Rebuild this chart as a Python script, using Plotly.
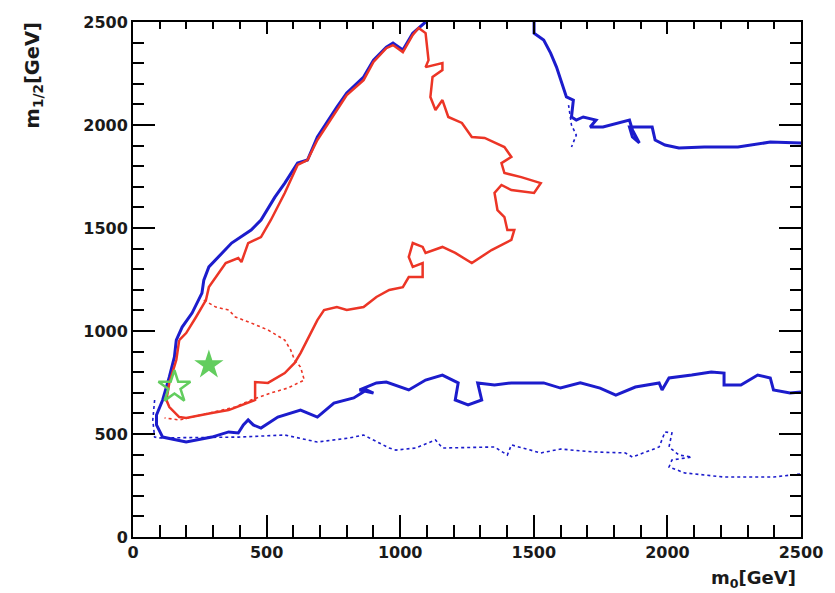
import plotly.graph_objects as go

# CMSSM (m0, m1/2) plane: likelihood contours in GeV

# blue solid contour: left edge from the top boundary down, then along the bottom to the right edge
blue_main_m0 = [1095, 1069, 1047, 1010, 973, 948, 900, 863, 800, 763, 715, 690, 653, 616, 568, 531,
                479, 442, 369, 295, 284, 265, 258, 221, 184, 162, 155, 136, 111, 88, 88, 111, 199,
                295, 358, 394, 413, 431, 450, 479, 542, 627, 690, 752, 826, 874, 900, 848, 911, 948,
                1032, 1095, 1158, 1217, 1206, 1254, 1305, 1290, 1353, 1416, 1537, 1600, 1674, 1748,
                1807, 1880, 1969, 1980, 2006, 2091, 2164, 2212, 2212, 2275, 2338, 2385, 2397, 2459, 2500]
blue_main_m12 = [2500, 2471, 2446, 2364, 2398, 2378, 2315, 2233, 2155, 2087, 1990, 1942, 1830, 1815,
                 1718, 1650, 1539, 1490, 1427, 1330, 1311, 1247, 1184, 1087, 1019, 956, 874, 777, 665,
                 592, 544, 485, 461, 485, 510, 505, 544, 568, 544, 529, 582, 616, 582, 650, 675, 714,
                 699, 714, 748, 752, 714, 762, 786, 748, 665, 641, 665, 748, 738, 748, 748, 723, 748,
                 723, 689, 728, 748, 714, 772, 786, 801, 796, 738, 738, 786, 772, 714, 699, 704]

# blue solid contour: upper-right branch
blue_top_m0 = [1501, 1501, 1537, 1563, 1585, 1600, 1622, 1648, 1641, 1659, 1685, 1733, 1711, 1759,
               1821, 1858, 1869, 1895, 1869, 1858, 1906, 1943, 1954, 1991, 2043, 2138, 2264, 2385, 2500]
blue_top_m12 = [2500, 2446, 2412, 2349, 2281, 2218, 2136, 2121, 2039, 2024, 2039, 2024, 1990, 1990,
                2010, 2024, 1976, 1913, 1942, 1990, 1990, 1990, 1927, 1903, 1888, 1893, 1893, 1917, 1913]

# blue dotted contour: small fragment in the upper-right branch
blue_frag_m0 = [1630, 1641, 1659, 1641]
blue_frag_m12 = [2097, 2000, 1951, 1893]

# blue dotted contour: lower band
blue_dot_m0 = [81, 74, 81, 100, 394, 568, 690, 811, 863, 959, 984, 1058, 1132, 1158, 1353, 1401,
               1416, 1526, 1600, 1722, 1843, 1869, 1969, 1991, 2017, 2006, 2043, 2091, 2017, 2006,
               2065, 2212, 2397, 2485, 2500]
blue_dot_m12 = [665, 568, 485, 481, 485, 495, 461, 481, 495, 432, 422, 432, 471, 432, 437, 398,
                447, 408, 427, 413, 408, 388, 437, 510, 505, 437, 398, 388, 374, 340, 311, 291,
                291, 301, 306]

# red solid contour (closed)
red_m0 = [173, 199, 236, 273, 284, 310, 347, 394, 406, 431, 479, 516, 542, 568, 616, 653, 690, 715,
          763, 800, 863, 900, 948, 973, 1010, 1047, 1069, 1095, 1106, 1095, 1158, 1158, 1121, 1113,
          1132, 1158, 1180, 1231, 1268, 1316, 1390, 1416, 1379, 1390, 1453, 1526, 1501, 1416, 1379,
          1353, 1364, 1390, 1401, 1427, 1416, 1342, 1268, 1206, 1158, 1095, 1084, 1047, 1032, 1047,
          1084, 1084, 1032, 1010, 959, 911, 863, 800, 763, 715, 690, 653, 627, 605, 568, 505, 457,
          457, 358, 295, 199, 173, 136, 125, 136, 162, 173]
red_m12 = [956, 990, 1068, 1150, 1213, 1262, 1330, 1354, 1335, 1427, 1456, 1539, 1602, 1670, 1806,
           1830, 1927, 1976, 2073, 2145, 2218, 2306, 2373, 2388, 2354, 2437, 2471, 2446, 2315, 2281,
           2301, 2267, 2233, 2136, 2073, 2121, 2039, 2010, 1942, 1937, 1893, 1845, 1815, 1767, 1747,
           1718, 1670, 1684, 1709, 1670, 1587, 1553, 1490, 1490, 1442, 1393, 1330, 1379, 1408, 1379,
           1408, 1427, 1359, 1311, 1330, 1262, 1262, 1213, 1199, 1165, 1116, 1102, 1116, 1102, 1053,
           956, 893, 845, 796, 748, 752, 665, 616, 602, 578, 582, 631, 665, 748, 859, 956]

# red dotted contour
red_dot_m0 = [265, 310, 358, 383, 442, 505, 568, 590, 605, 627, 641, 579, 516, 442, 383, 247, 173, 118]
red_dot_m12 = [1150, 1116, 1102, 1068, 1039, 1005, 956, 908, 859, 825, 762, 723, 699, 665, 631, 592, 568, 578]

# benchmark points
best_fit_m0, best_fit_m12 = [284], [835]
alt_point_m0, alt_point_m12 = [155], [728]

BLUE = "#1c1ccc"
RED = "#ec3526"
GREEN = "#62cd5e"

fig = go.Figure()

def line(x, y, color, width, dash="solid"):
    fig.add_trace(go.Scatter(x=x, y=y, mode="lines", showlegend=False, hoverinfo="skip",
                             line=dict(color=color, width=width, dash=dash)))

line(blue_dot_m0, blue_dot_m12, BLUE, 1.6, "dot")
line(blue_frag_m0, blue_frag_m12, BLUE, 1.6, "dot")
line(blue_main_m0, blue_main_m12, BLUE, 3)
line(blue_top_m0, blue_top_m12, BLUE, 3)
line(red_dot_m0, red_dot_m12, RED, 1.6, "dot")
line(red_m0, red_m12, RED, 2.5)

fig.add_trace(go.Scatter(x=best_fit_m0, y=best_fit_m12, mode="markers", showlegend=False,
                         hoverinfo="skip",
                         marker=dict(symbol="star", size=22, color=GREEN, line=dict(width=0))))
fig.add_trace(go.Scatter(x=alt_point_m0, y=alt_point_m12, mode="markers", showlegend=False,
                         hoverinfo="skip",
                         marker=dict(symbol="star-open", size=24, color=GREEN, line=dict(width=2.5, color=GREEN))))
# carrier for the top tick axis
fig.add_trace(go.Scatter(x=[None], y=[None], xaxis="x2", showlegend=False, hoverinfo="skip"))

tick_font = dict(family="DejaVu Sans", size=16, color="#1a1a1a", weight="bold")

fig.update_layout(
    width=835, height=593,
    margin=dict(l=133, r=24, t=22, b=56),
    paper_bgcolor="white", plot_bgcolor="white",
    xaxis=dict(range=[0, 2500], showgrid=False, zeroline=False,
               showline=True, linecolor="black", linewidth=2, mirror=True,
               ticks="inside", ticklen=22, tickwidth=2, tickcolor="black",
               tickvals=[0, 500, 1000, 1500, 2000, 2500], tickfont=tick_font,
               minor=dict(dtick=100, ticks="inside", ticklen=12, tickwidth=2, tickcolor="black")),
    xaxis2=dict(range=[0, 2500], overlaying="x", side="top", showgrid=False, zeroline=False,
                showline=False, showticklabels=False,
                ticks="inside", ticklen=12, tickwidth=2, tickcolor="black",
                tickvals=[0, 500, 1000, 1500, 2000, 2500],
                minor=dict(dtick=100, ticks="inside", ticklen=7, tickwidth=2, tickcolor="black")),
    yaxis=dict(range=[0, 2500], showgrid=False, zeroline=False,
               showline=True, linecolor="black", linewidth=2, mirror="ticks",
               ticks="inside", ticklen=22, tickwidth=2, tickcolor="black",
               tickvals=[0, 500, 1000, 1500, 2000, 2500], tickfont=tick_font,
               minor=dict(dtick=100, ticks="inside", ticklen=11, tickwidth=2, tickcolor="black")),
)

fig.add_annotation(text="m<sub>0</sub>[GeV]", xref="paper", yref="paper", x=0.996, y=-0.082,
                   xanchor="right", yanchor="middle", showarrow=False,
                   font=dict(family="DejaVu Sans", size=18, color="#1a1a1a", weight="bold"))
fig.add_annotation(text="m<sub>1/2</sub>[GeV]", xref="paper", yref="paper", x=-0.149, y=1.004,
                   xanchor="center", yanchor="top", textangle=-90, showarrow=False,
                   font=dict(family="DejaVu Sans", size=19.5, color="#1a1a1a", weight="bold"))

fig.write_html("out.html")
